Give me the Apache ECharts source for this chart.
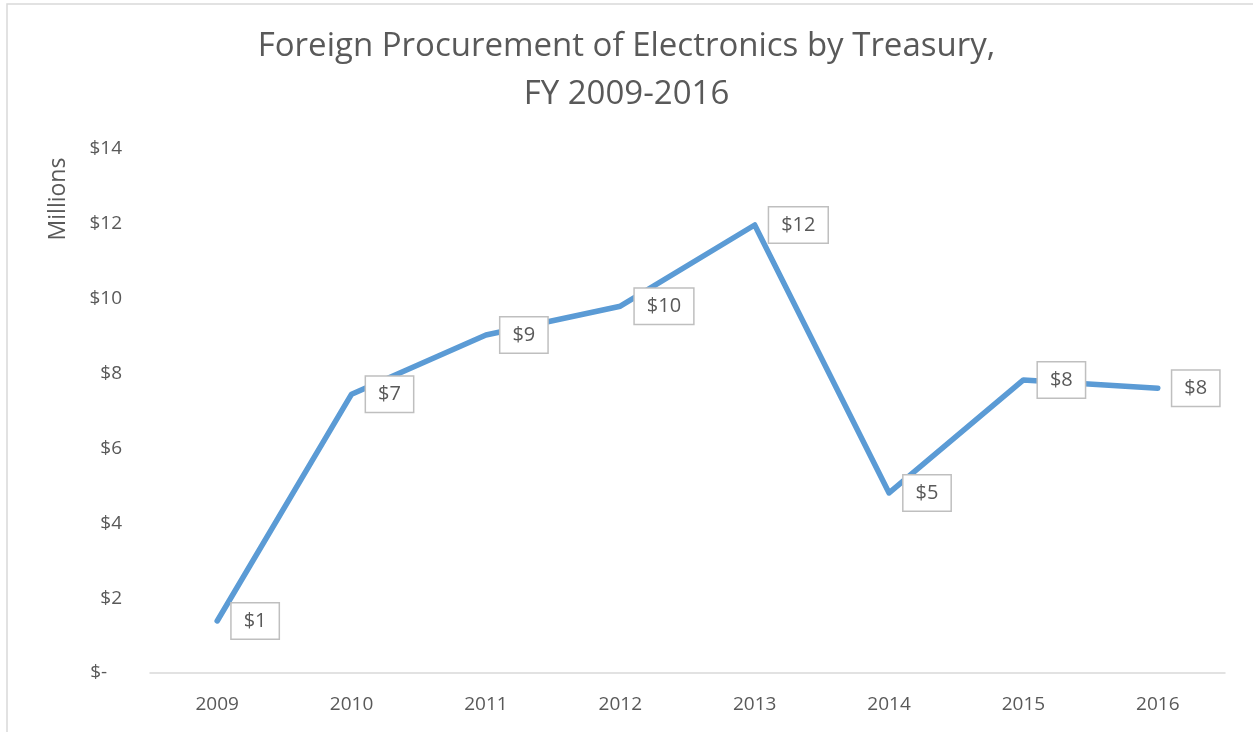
<!DOCTYPE html>
<html>
<head>
<meta charset="utf-8">
<script src="https://cdn.jsdelivr.net/npm/echarts@6/dist/echarts.min.js"></script>
<style>
  html, body { margin: 0; padding: 0; background: #fff; }
  #main { width: 1253px; height: 732px; }
</style>
</head>
<body>
<div id="main"></div>
<script>
// fiscal years and procurement (millions of dollars)
var years = ['2009', '2010', '2011', '2012', '2013', '2014', '2015', '2016'];
var procurement = [1.39, 7.45, 9.03, 9.8, 11.97, 4.81, 7.83, 7.61];
var yTicks = [0, 2, 4, 6, 8, 10, 12, 14];

var textColor = '#595959';
var fontName = '"Open Sans", "Noto Sans", sans-serif';

var myChart = echarts.init(document.getElementById('main'));
var option = {
	backgroundColor: '#ffffff',
	animation: false,
	title: {
		text: 'Foreign Procurement of Electronics by Treasury,\nFY 2009-2016',
		left: 'center',
		top: 18,
		textStyle: {
			color: textColor,
			fontFamily: fontName,
			fontWeight: 'normal',
			fontSize: 33,
			lineHeight: 48
		}
	},
	graphic: [{
		type: 'rect',
		shape: { x: 7, y: 4, width: 1300, height: 800 },
		style: { fill: 'none', stroke: '#D9D9D9', lineWidth: 1.5 },
		silent: true
	}, {
		type: 'text',
		x: 47,
		y: 199,
		rotation: Math.PI / 2,
		style: {
			text: 'Millions',
			fill: textColor,
			font: '23px ' + fontName,
			textAlign: 'center',
			textVerticalAlign: 'top'
		}
	}],
	grid: {
		left: 150,
		right: 28,
		top: 149,
		bottom: 59
	},
	xAxis: {
		type: 'category',
		data: years,
		boundaryGap: true,
		axisLine: { lineStyle: { color: '#D9D9D9', width: 1.5 } },
		axisTick: { show: false },
		axisLabel: {
			color: textColor,
			fontFamily: fontName,
			fontSize: 19,
			margin: 22
		}
	},
	yAxis: {
		type: 'value',
		min: yTicks[0],
		max: yTicks[yTicks.length - 1],
		interval: 2,
		splitLine: { show: false },
		axisLine: { show: false },
		axisTick: { show: false },
		axisLabel: {
			color: textColor,
			fontFamily: fontName,
			fontSize: 19,
			margin: 28,
			formatter: function(v) {
				return v === 0 ? '$-   ' : '$' + v;
			}
		}
	},
	series: [{
		type: 'line',
		data: procurement,
		symbol: 'circle',
		symbolSize: 1,
		itemStyle: { color: '#5B9BD5' },
		lineStyle: { color: '#5B9BD5', width: 5.5, cap: 'round', join: 'round' },
		label: {
			show: true,
			position: 'right',
			distance: 14,
			color: textColor,
			fontFamily: fontName,
			fontSize: 20,
			backgroundColor: '#ffffff',
			borderColor: '#BFBFBF',
			borderWidth: 1.5,
			padding: [8, 12, 7, 12],
			formatter: function(p) {
				return '$' + Math.round(p.value);
			}
		}
	}]
};
myChart.setOption(option);
</script>
</body>
</html>
